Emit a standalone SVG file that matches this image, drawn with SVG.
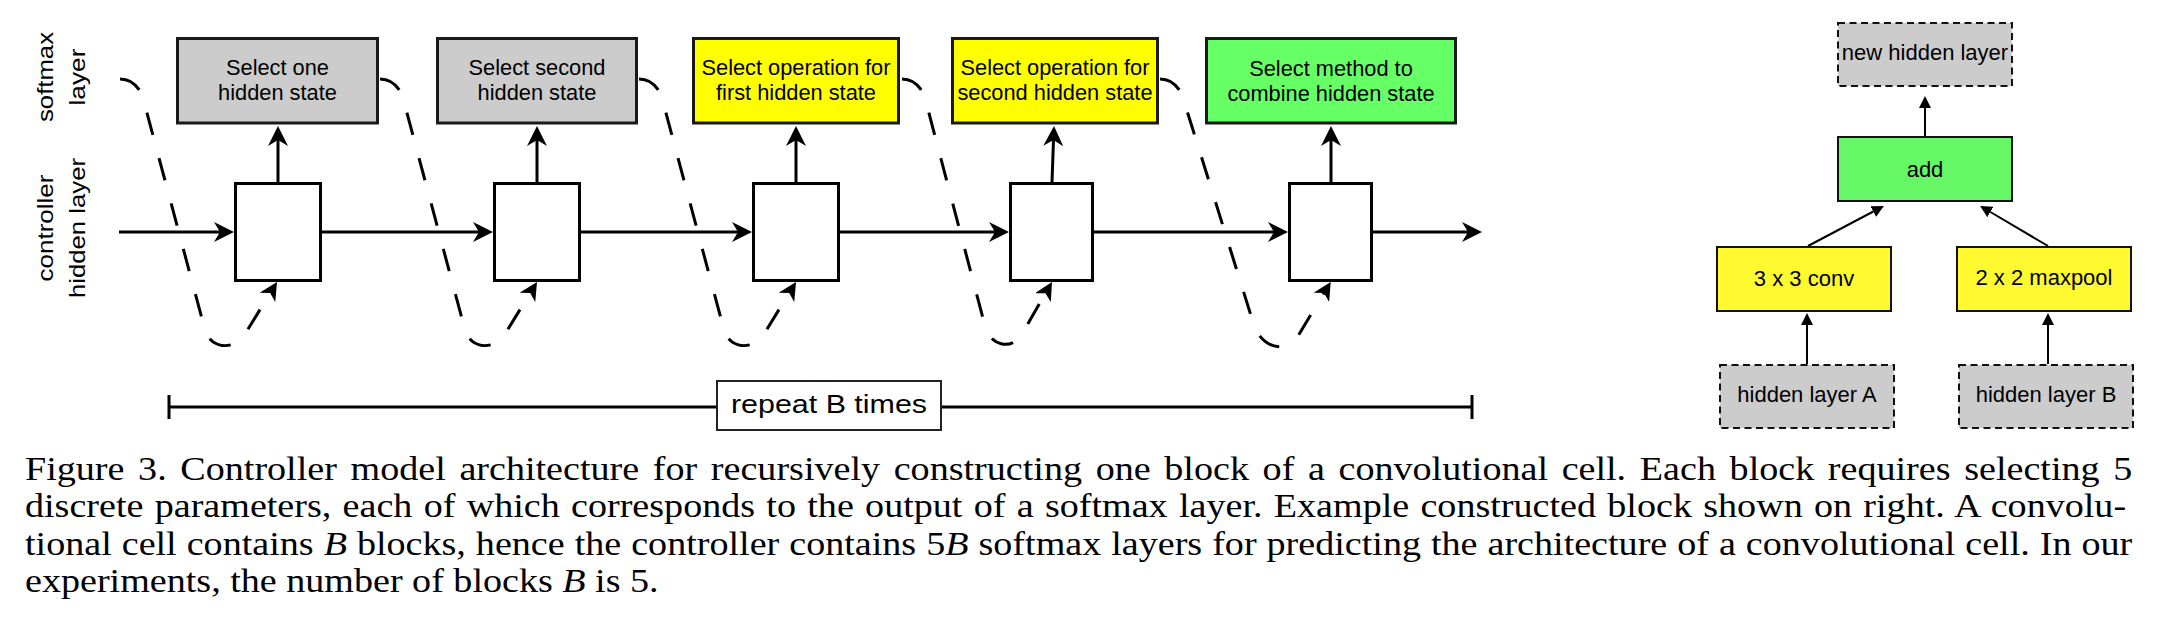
<svg xmlns="http://www.w3.org/2000/svg" width="2160" height="640" viewBox="0 0 2160 640">
<style>
.sans{font-family:"Liberation Sans",Arial,Helvetica,sans-serif;fill:#000}
.lbl{font-size:21.8px;text-anchor:middle}
.side{font-size:22.5px;text-anchor:middle}
.rt{font-size:22px;text-anchor:middle}
.cap{font-family:"Liberation Serif","Times New Roman",serif;font-size:33px;fill:#000}
.sm{stroke:#1a1a1a;stroke-width:3}
.cell{fill:#fff;stroke:#000;stroke-width:3}
.rbox{stroke:#111;stroke-width:2}
.dbox{fill:#cccccc;stroke:#111;stroke-width:2;stroke-dasharray:7 4.5}
.conn{fill:none;stroke:#000;stroke-width:3}
.dash{fill:none;stroke:#000;stroke-width:3;stroke-dasharray:23 24}
.rc{fill:none;stroke:#000;stroke-width:2}
</style>
<defs>
<marker id="big" viewBox="0 -10 20 20" refX="6" refY="0" markerWidth="20" markerHeight="20" markerUnits="userSpaceOnUse" orient="auto"><path d="M20,0 L0,-10 L6,0 L0,10 Z" fill="#000"/></marker>
<marker id="small" viewBox="0 -9 18 18" refX="5" refY="0" markerWidth="18" markerHeight="18" markerUnits="userSpaceOnUse" orient="auto"><path d="M18,0 L0,-9 L5,0 L0,9 Z" fill="#000"/></marker>
<marker id="tri" viewBox="0 -6 12 12" refX="0" refY="0" markerWidth="12" markerHeight="12" markerUnits="userSpaceOnUse" orient="auto"><path d="M12,0 L0,-6 L0,6 Z" fill="#000"/></marker>
</defs>
<rect width="2160" height="640" fill="#fff"/>

<g id="side-labels" class="sans side">
<text transform="translate(53,77) rotate(-90)" textLength="90" lengthAdjust="spacingAndGlyphs">softmax</text>
<text transform="translate(85,77) rotate(-90)" textLength="57" lengthAdjust="spacingAndGlyphs">layer</text>
<text transform="translate(53,228) rotate(-90)" textLength="107" lengthAdjust="spacingAndGlyphs">controller</text>
<text transform="translate(85,228) rotate(-90)" textLength="140" lengthAdjust="spacingAndGlyphs">hidden layer</text>
</g>

<g id="connectors">
<path class="conn" d="M119,232 L220,232" marker-end="url(#big)"/>
<path class="conn" d="M322,232 L479,232" marker-end="url(#big)"/>
<path class="conn" d="M581,232 L738,232" marker-end="url(#big)"/>
<path class="conn" d="M840,232 L995,232" marker-end="url(#big)"/>
<path class="conn" d="M1094,232 L1274,232" marker-end="url(#big)"/>
<path class="conn" d="M1373,232 L1468,232" marker-end="url(#big)"/>
<path class="conn" d="M278,182 L278,140" marker-end="url(#big)"/>
<path class="conn" d="M537,182 L537,140" marker-end="url(#big)"/>
<path class="conn" d="M796,182 L796,140" marker-end="url(#big)"/>
<path class="conn" d="M1052,182 L1053.5,140" marker-end="url(#big)"/>
<path class="conn" d="M1331,182 L1331,140" marker-end="url(#big)"/>
<path class="dash" d="M120,79 C130,79 139,86 142.7,97 L205,330 C210,349 235,351 245,334 L270.2,293.1" marker-end="url(#small)"/>
<path class="dash" d="M380,79 C390,79 399,86 402.7,97 L465,330 C470,349 495,351 505,334 L530.2,293.1" marker-end="url(#small)"/>
<path class="dash" d="M639,79 C649,79 658,86 661.7,97 L724,330 C729,349 754,351 764,334 L789.2,293.1" marker-end="url(#small)"/>
<path class="dash" d="M902,79 C912,79 921,86 924.7,97 L985,326 C990,346 1012,351 1022,334 L1045.5,293.3" marker-end="url(#small)"/>
<path class="dash" d="M1160,79 C1170,79 1179,86 1182.7,97 L1253,322 C1259,346 1285,356 1298,336 L1324,293" marker-end="url(#small)"/>
<path class="rc" d="M1925,136 L1925,108" marker-end="url(#tri)"/>
<path class="rc" d="M1808,246 L1873.3,211.5" marker-end="url(#tri)"/>
<path class="rc" d="M2048,246 L1990.4,212" marker-end="url(#tri)"/>
<path class="rc" d="M1807,364 L1807,325" marker-end="url(#tri)"/>
<path class="rc" d="M2048,364 L2048,325" marker-end="url(#tri)"/>
</g>

<g id="sm1"><rect class="sm" x="177.5" y="38.5" width="200" height="84.5" fill="#cccccc"/>
<text class="sans lbl" x="277.5" y="75">Select one</text><text class="sans lbl" x="277.5" y="100">hidden state</text></g>
<g id="sm2"><rect class="sm" x="437.5" y="38.5" width="199" height="84.5" fill="#cccccc"/>
<text class="sans lbl" x="537" y="75">Select second</text><text class="sans lbl" x="537" y="100">hidden state</text></g>
<g id="sm3"><rect class="sm" x="693.5" y="38.5" width="205" height="84.5" fill="#ffff00"/>
<text class="sans lbl" x="796" y="75">Select operation for</text><text class="sans lbl" x="796" y="100">first hidden state</text></g>
<g id="sm4"><rect class="sm" x="952.5" y="38.5" width="205" height="84.5" fill="#ffff00"/>
<text class="sans lbl" x="1055" y="75">Select operation for</text><text class="sans lbl" x="1055" y="100">second hidden state</text></g>
<g id="sm5"><rect class="sm" x="1206.5" y="38.5" width="249" height="84.5" fill="#66ff66"/>
<text class="sans lbl" x="1331" y="76">Select method to</text><text class="sans lbl" x="1331" y="101">combine hidden state</text></g>

<g id="cell1"><rect class="cell" x="235.5" y="183.5" width="85" height="97"/></g>
<g id="cell2"><rect class="cell" x="494.5" y="183.5" width="85" height="97"/></g>
<g id="cell3"><rect class="cell" x="753.5" y="183.5" width="85" height="97"/></g>
<g id="cell4"><rect class="cell" x="1010.5" y="183.5" width="82" height="97"/></g>
<g id="cell5"><rect class="cell" x="1289.5" y="183.5" width="82" height="97"/></g>

<g id="repeat">
<path d="M169,407 L1472,407 M169,395 L169,419 M1472,395 L1472,419" fill="none" stroke="#000" stroke-width="3"/>
<rect x="717" y="381" width="224" height="49" fill="#fff" stroke="#222" stroke-width="2"/>
<text class="sans" x="829" y="413" font-size="25.5" text-anchor="middle" textLength="196" lengthAdjust="spacingAndGlyphs">repeat B times</text>
</g>

<g id="new-hidden"><rect class="dbox" x="1838" y="23" width="174" height="63"/><text class="sans rt" x="1925" y="60">new hidden layer</text></g>
<g id="add"><rect class="rbox" x="1838" y="137" width="174" height="64" fill="#66f766"/><text class="sans rt" x="1925" y="177">add</text></g>
<g id="conv"><rect class="rbox" x="1717" y="247" width="174" height="64" fill="#fff930"/><text class="sans rt" x="1804" y="286">3 x 3 conv</text></g>
<g id="maxpool"><rect class="rbox" x="1957" y="247" width="174" height="64" fill="#fff930"/><text class="sans rt" x="2044" y="285">2 x 2 maxpool</text></g>
<g id="hidden-a"><rect class="dbox" x="1720" y="365" width="174" height="63"/><text class="sans rt" x="1807" y="402">hidden layer A</text></g>
<g id="hidden-b"><rect class="dbox" x="1959" y="365" width="174" height="63"/><text class="sans rt" x="2046" y="402">hidden layer B</text></g>

<g id="caption" class="cap" transform="scale(1.155,1)">
<text x="21.65" y="480" style="word-spacing:3.58px">Figure 3. Controller model architecture for recursively constructing one block of a convolutional cell. Each block requires selecting 5</text>
<text x="21.65" y="517" style="word-spacing:1.53px">discrete parameters, each of which corresponds to the output of a softmax layer. Example constructed block shown on right. A convolu-</text>
<text x="21.65" y="555" style="word-spacing:0.41px">tional cell contains <tspan font-style="italic">B</tspan> blocks, hence the controller contains 5<tspan font-style="italic">B</tspan> softmax layers for predicting the architecture of a convolutional cell. In our</text>
<text x="21.65" y="592">experiments, the number of blocks <tspan font-style="italic">B</tspan> is 5.</text>
</g>
</svg>
